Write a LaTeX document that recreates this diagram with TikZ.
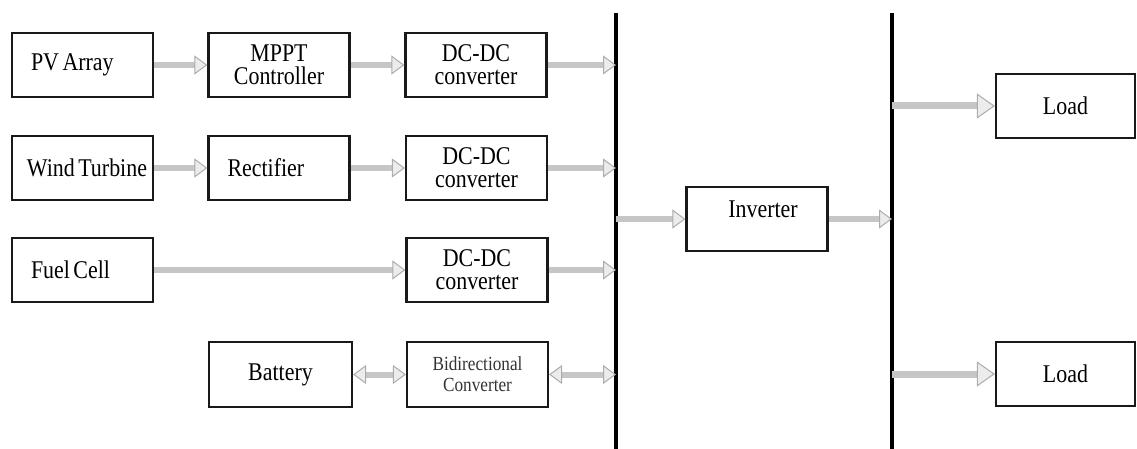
\documentclass[tikz,border=0pt]{standalone}
\usepackage{fontspec}
\setmainfont{Liberation Serif}[FakeStretch=0.86]
\usetikzlibrary{arrows.meta}
\newcommand{\bigtxt}{\fontsize{25.5}{23}\selectfont}
\newcommand{\wsp}{\kern3.5pt\relax}
\begin{document}
\begin{tikzpicture}[x=1pt,y=-1pt,
  box/.style={draw=black!90, line width=2.2pt, minimum width=141pt, minimum height=64pt,
    inner sep=0pt, font=\bigtxt, align=center, anchor=center},
  lbox/.style={box, text width=103pt, inner xsep=19pt, align=left},
  gtip/.tip={Triangle[length=13pt,width=19pt,color=gray!65,fill=gray!15,line width=1pt]},
  btip/.tip={Triangle[length=18pt,width=25pt,color=gray!65,fill=gray!15,line width=1pt]},
  flow/.style={draw=gray!45, line width=6pt, -gtip},
  bflow/.style={draw=gray!45, line width=6pt, gtip-gtip},
  lflow/.style={draw=gray!45, line width=7pt, -btip},
  bus/.style={draw=black, line width=4pt}]
\useasboundingbox (0,0) rectangle (1137,449);
% buses
\coordinate (b1top) at (616,13);
\coordinate (b1bot) at (616,449);
\coordinate (b2top) at (892,13);
\coordinate (b2bot) at (892,449);
\draw[bus] (b1top) -- (b1bot);
\draw[bus] (b2top) -- (b2bot);
% boxes
\node[lbox] (pv) at (82.5,65) {PV\wsp Array};
\node[box] (mppt) at (279,65) {MPPT\\Controller};
\node[box] (dc1) at (476,65) {DC-DC\\converter};
\node[lbox, inner xsep=15pt, text width=111pt] (wind) at (82.5,168) {\mbox{Wind\wsp Turbine}};
\node[lbox] (rect) at (279,168) {Rectifier};
\node[box] (dc2) at (476.5,168) {DC-DC\\converter};
\node[lbox] (fuel) at (82.5,270) {Fuel\wsp Cell};
\node[box] (dc3) at (477,270) {DC-DC\\converter};
\node[box, minimum width=143pt, minimum height=65pt] (batt) at (280.5,374.5) {Battery};
\node[box, minimum height=65pt, font=\fontsize{20}{21}\selectfont, text=black!80] (bidir) at (477.5,374.5) {Bidirectional\\Converter};
\node[box] (inv) at (757,219) {};
\node[font=\bigtxt, inner sep=0pt] (invlbl) at (763,209) {Inverter};
\node[box, minimum width=139pt] (load1) at (1065.5,106) {Load};
\node[box, minimum width=139pt] (load2) at (1065.5,374) {Load};
% connectors
\draw[flow] (pv.east) -- (mppt.west);
\draw[flow] (mppt.east) -- (dc1.west);
\draw[flow] (dc1.east) -- (dc1.east -| b1top);
\draw[flow] (wind.east) -- (rect.west);
\draw[flow] (rect.east) -- (dc2.west);
\draw[flow] (dc2.east) -- (dc2.east -| b1top);
\draw[flow] (fuel.east) -- (dc3.west);
\draw[flow] (dc3.east) -- (dc3.east -| b1top);
\draw[bflow] (batt.east) -- (bidir.west);
\draw[bflow] (bidir.east) -- (bidir.east -| b1top);
\draw[flow] (inv.west -| b1top) -- (inv.west);
\draw[flow] (inv.east) -- (inv.east -| b2top);
\draw[lflow] (load1.west -| b2top) -- (load1.west);
\draw[lflow] (load2.west -| b2top) -- (load2.west);
\end{tikzpicture}
\end{document}
